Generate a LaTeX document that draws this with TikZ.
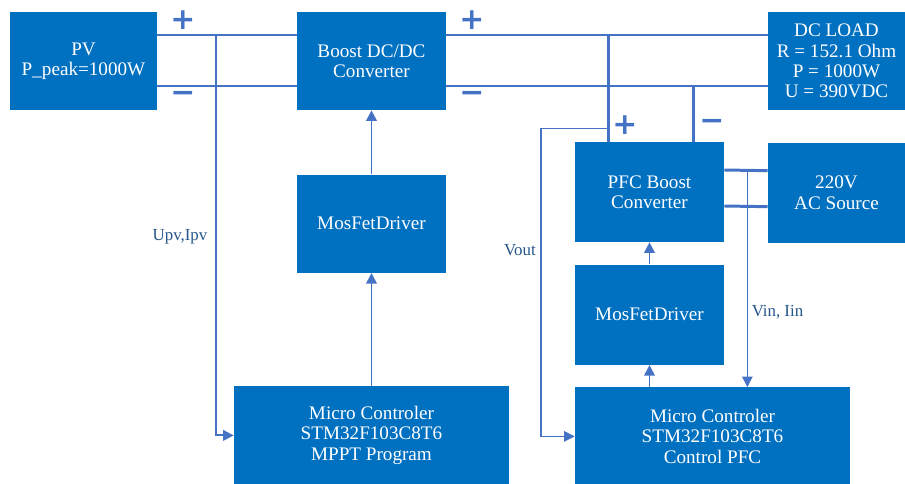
\documentclass[tikz,border=0pt]{standalone}
\usepackage{fontspec}
\setmainfont{Liberation Serif}
\newfontfamily\signfont{DejaVu Sans}
\usetikzlibrary{positioning,arrows.meta}
\definecolor{boxblue}{RGB}{0,112,192}
\definecolor{wireblue}{RGB}{68,114,196}
\definecolor{labelblue}{RGB}{38,86,138}

\begin{document}
\begin{tikzpicture}[node distance=1.28cm, auto,
    block/.style={fill=boxblue, text=white, align=center, minimum width=2.98cm, minimum height=1.96cm, inner sep=2pt, font=\fontsize{10.9}{11.5}\selectfont},
    rail/.style={draw=wireblue, line width=1.7pt},
    wire/.style={draw=wireblue, line width=1.1pt},
    sense/.style={draw=wireblue, line width=0.6pt},
    arr/.style={-{Triangle[length=6pt,width=6pt]}},
    sign/.style={text=wireblue, font=\signfont\bfseries\fontsize{17}{17}\selectfont, inner sep=0pt},
    lbl/.style={text=labelblue, font=\fontsize{9.6}{11}\selectfont, inner sep=0pt}]
    \useasboundingbox (0,0) rectangle (18.1,-9.68);
            \node[block, minimum width=2.94cm] (pv) at (1.67,-1.22) {PV\\P\_peak=1000W};
            \node[block] (boost) at (7.43,-1.22) {Boost DC/DC\\Converter};
            \node[block, minimum width=2.74cm] (load) at (16.73,-1.22) {DC LOAD\\R = 152.1 Ohm\\P = 1000W\\U = 390VDC};
            \node[block] (driverL) [below=of boost] {MosFetDriver};
            \node[block, minimum width=5.5cm] (mcuL) [below=2.26cm of driverL] {Micro Controler\\STM32F103C8T6\\MPPT Program};
            \node[block, minimum height=2cm] (pfc) at (12.99,-3.84) {PFC Boost\\Converter};
            \node[block, minimum width=2.74cm, minimum height=2cm] (ac) [below=0.64cm of load] {220V\\AC Source};
            \node[block, minimum height=2cm] (driverR) [below=0.44cm of pfc] {MosFetDriver};
            \node[block, minimum width=5.5cm, anchor=north west] (mcuR) at ([yshift=-0.44cm]driverR.south west) {Micro Controler\\STM32F103C8T6\\Control PFC};
            % DC rails
            \draw[rail] ([yshift=0.52cm]pv.east) -- ([yshift=0.52cm]boost.west);
            \draw[rail] ([yshift=-0.5cm]pv.east) -- ([yshift=-0.5cm]boost.west);
            \draw[rail] ([yshift=0.52cm]boost.east) -- ([yshift=0.52cm]load.west);
            \draw[rail] ([yshift=-0.5cm]boost.east) -- ([yshift=-0.5cm]load.west);
            \coordinate (topR) at ([yshift=0.52cm]load.west);
            \coordinate (botR) at ([yshift=-0.5cm]load.west);
            \coordinate (pfcP) at ([xshift=-0.83cm]pfc.north);
            \coordinate (pfcN) at ([xshift=0.87cm]pfc.north);
            \draw[rail] (pfcP) -- (pfcP |- topR);
            \draw[rail] (pfcN) -- (pfcN |- botR);
            % AC side
            \draw[rail] ([yshift=0.44cm]pfc.east) -- ([yshift=0.44cm]ac.west);
            \draw[rail] ([yshift=-0.28cm]pfc.east) -- ([yshift=-0.28cm]ac.west);
            % control paths
            \draw[wire, arr] (driverL) -- (boost);
            \draw[wire, arr] (mcuL) -- (driverL);
            \draw[wire, arr] (driverR) -- (pfc);
            \draw[wire, arr] (driverR.south |- mcuR.north) -- (driverR.south);
            % measurements
            \coordinate (tapPV) at ([xshift=1.18cm, yshift=0.52cm]pv.east);
            \draw[wire, arr] (tapPV) |- (mcuL.west);
            \draw[sense, arr] ([yshift=0.26cm]pfcP) -- ++(-1.34,0) |- (mcuR.west);
            \coordinate (vinTap) at ([xshift=0.46cm, yshift=0.44cm]pfc.east);
            \draw[sense, arr] (vinTap) -- (vinTap |- mcuR.north);
            \node[lbl] (upv) at (3.6,-4.74) {Upv,Ipv};
            \node[lbl] (vout) at (10.4,-5.0) {Vout};
            \node[lbl] (vin) at (15.55,-6.24) {Vin, Iin};
            % polarity marks
            \node[sign] (plusA) at (3.66,-0.4) {+};
            \node[sign] (minusA) at (3.66,-1.94) {−};
            \node[sign] (plusB) at (9.44,-0.4) {+};
            \node[sign] (minusB) at (9.44,-1.94) {−};
            \node[sign] (plusC) at (12.5,-2.5) {+};
            \node[sign] (minusC) at (14.24,-2.5) {−};
        \end{tikzpicture}
\end{document}
